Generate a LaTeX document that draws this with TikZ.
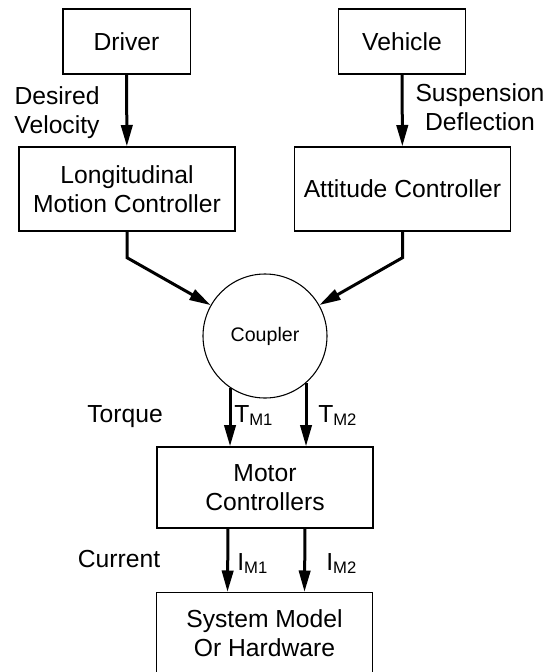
\documentclass[tikz,border=0pt]{standalone}
\usepackage{fontspec}
\setmainfont{Liberation Sans}
\usetikzlibrary{arrows.meta, positioning}

% lowered index for the torque and current signals
\newcommand{\subsc}[1]{\raisebox{-2.5pt}{\fontsize{12.5}{12.5}\selectfont #1}}

\begin{document}
\begin{tikzpicture}[
  x=0.75pt, y=-0.75pt,
  font=\fontsize{18.5}{21.75}\selectfont,
  block/.style={draw, line width=1pt, minimum width=162pt, minimum height=63pt, align=center, inner sep=0pt},
  src/.style={draw, line width=1pt, minimum width=95.5pt, minimum height=48.75pt, inner sep=0pt},
  lbl/.style={align=center, inner sep=0pt},
  arrow/.style={-{Triangle[length=16pt, width=8.5pt]}, line width=2.25pt}
]
\useasboundingbox (0,0) rectangle (547,672);

% Inputs
\node[src] (driver) at (126.5,41.5) {Driver};
\node[src] (vehicle) at (402,41.5) {Vehicle};

% Controllers
\node[block] (lmc) at (127,189) {Longitudinal\\Motion Controller};
\node[block] (att) at (402.5,189) {Attitude Controller};

% Coupler
\node[draw, circle, line width=0.8pt, minimum size=93pt, inner sep=0pt,
      font=\fontsize{14.7}{16}\selectfont] (coupler) at (265,336) {Coupler};

% Motor side
\node[block, minimum height=60.75pt] (motor) at (265,487.5) {Motor\\Controllers};
\node[block, minimum height=60.75pt] (plant) at (264.5,633) {System Model\\Or Hardware};

% Signal labels
\node[lbl] (desired) at (57,113) {Desired\\Velocity};
\node[lbl] (susp) at (480,107) {Suspension\\Deflection};
\node[lbl, anchor=base] (torque) at (125,422) {Torque};
\node[lbl, anchor=base] (current) at (119,567) {Current};
\node[lbl, anchor=base west] (tm1) at (234,422) {T\subsc{M1}};
\node[lbl, anchor=base west] (tm2) at (318,422) {T\subsc{M2}};
\node[lbl, anchor=base west] (im1) at (237,570) {I\subsc{M1}};
\node[lbl, anchor=base west] (im2) at (326,570) {I\subsc{M2}};

% Arrows
\draw[arrow] (driver) -- (lmc);
\draw[arrow] (vehicle) -- (att);
\draw[arrow] (lmc.south) -- ++(0,26) -- (coupler);
\draw[arrow] (att.south) -- ++(0,26) -- (coupler);
\draw[arrow] (coupler.-124.5) -- (coupler.-124.5 |- motor.north);
\draw[arrow] (coupler.-49.8) -- (coupler.-49.8 |- motor.north);
\draw[arrow] ([xshift=-27.75pt]motor.south) -- ([xshift=-27.75pt]plant.north);
\draw[arrow] ([xshift=30pt]motor.south) -- ([xshift=30pt]plant.north);

\end{tikzpicture}
\end{document}
